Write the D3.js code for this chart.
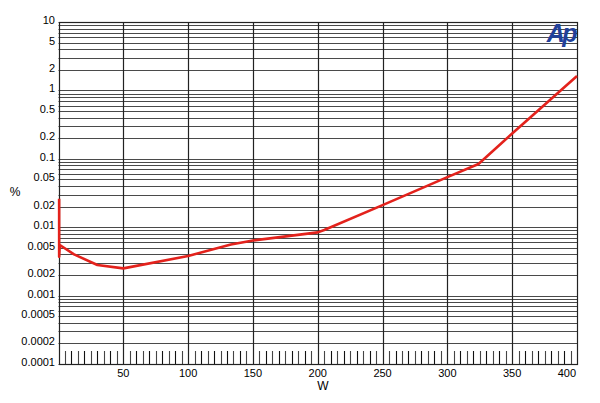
<!DOCTYPE html>
<html>
<head>
<meta charset="utf-8">
<script src="https://cdn.jsdelivr.net/npm/d3@7"></script>
<style>
html,body{margin:0;padding:0;background:#fff;}
svg{display:block;}
text{font-family:Arial,"Liberation Sans",sans-serif;fill:#000;}
</style>
</head>
<body>
<svg id="chart" width="600" height="403"></svg>
<script>
// Data
const powerW = [0.5, 0.5, 1, 12, 30, 50, 100, 133, 150, 200, 205, 250, 300, 324, 350, 400];
const thdPct = [0.026, 0.0037, 0.0055, 0.0040, 0.0028, 0.0025, 0.0038, 0.0056, 0.0064, 0.0084, 0.0091, 0.021, 0.054, 0.084, 0.235, 1.62];
const xTickValues = [50, 100, 150, 200, 250, 300, 350, 400];
const yTickLabels = ["10", "5", "2", "1", "0.5", "0.2", "0.1", "0.05", "0.02", "0.01", "0.005", "0.002", "0.001", "0.0005", "0.0002", "0.0001"];

const svg = d3.select("#chart");
const L = 58.5, R = 577, T = 22, B = 364;
const x = d3.scaleLinear().domain([0, 400]).range([L, R]);
const y = d3.scaleLog().domain([0.0001, 10]).range([B, T]);

// horizontal grid lines: k * 10^n
const hVals = [];
for (let n = -4; n <= 0; n++) for (let k = 1; k <= 9; k++) hVals.push(+(k * Math.pow(10, n)).toPrecision(3));
hVals.push(10);
svg.append("g").selectAll("line").data(hVals).join("line")
  .attr("x1", L).attr("x2", R)
  .attr("y1", d => Math.round(y(d)) + 0.5).attr("y2", d => Math.round(y(d)) + 0.5)
  .attr("stroke", "#4a4a4a")
  .attr("stroke-width", 1.2);

// vertical grid lines
svg.append("g").selectAll("line").data(xTickValues.slice(0, -1)).join("line")
  .attr("x1", d => Math.round(x(d)) + 0.5).attr("x2", d => Math.round(x(d)) + 0.5)
  .attr("y1", T).attr("y2", B)
  .attr("stroke", "#222").attr("stroke-width", 1.2);

// small bottom ticks every 5 W
const smallTicks = d3.range(5, 400, 5).filter(d => d % 50 !== 0);
svg.append("g").selectAll("line").data(smallTicks).join("line")
  .attr("x1", d => Math.round(x(d)) + 0.5).attr("x2", d => Math.round(x(d)) + 0.5)
  .attr("y1", B - 13).attr("y2", B)
  .attr("stroke", d => d % 10 === 0 ? "#111" : "#444").attr("stroke-width", 1.1);

// frame
svg.append("rect").attr("x", Math.round(L) + 0.5).attr("y", T + 0.5)
  .attr("width", Math.round(R) - Math.round(L)).attr("height", B - T)
  .attr("fill", "none").attr("stroke", "#222").attr("stroke-width", 1.2);

// y labels
svg.append("g").selectAll("text").data(yTickLabels).join("text")
  .attr("x", 55).attr("y", d => y(+d) + 2)
  .attr("text-anchor", "end").attr("font-size", 11)
  .text(d => d);

// x labels
svg.append("g").selectAll("text").data(xTickValues).join("text")
  .attr("x", d => d === 400 ? R - 1 : x(d))
  .attr("y", 377)
  .attr("text-anchor", d => d === 400 ? "end" : "middle").attr("font-size", 11)
  .text(d => d);

// axis titles
svg.append("text").attr("x", 323).attr("y", 390).attr("text-anchor", "middle").attr("font-size", 12).text("W");
svg.append("text").attr("x", 15).attr("y", 196).attr("text-anchor", "middle").attr("font-size", 12).text("%");

// logo
svg.append("text").attr("x", 575).attr("y", 42).attr("text-anchor", "end")
  .attr("font-size", 25).attr("font-weight", "bold").attr("font-style", "italic")
  .attr("letter-spacing", -2.5).style("fill", "#21409a").text("Ap");

// curve
const pts = powerW.map((w, i) => [w, thdPct[i]]);
svg.append("path").datum(pts)
  .attr("d", d3.line().x(d => x(d[0])).y(d => y(d[1])))
  .attr("fill", "none").attr("stroke", "#e3221c").attr("stroke-width", 2.6)
  .attr("stroke-linejoin", "round");
</script>
</body>
</html>
